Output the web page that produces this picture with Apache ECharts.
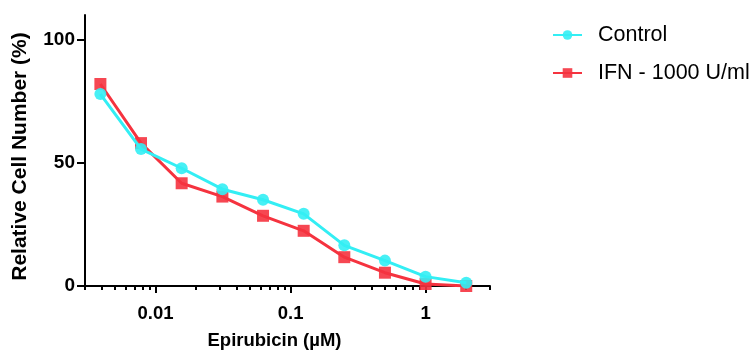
<!DOCTYPE html>
<html>
<head>
<meta charset="utf-8">
<script src="https://cdn.jsdelivr.net/npm/echarts@6/dist/echarts.min.js"></script>
<style>
  html, body { margin: 0; padding: 0; background: #fff; }
  #chart { width: 755px; height: 352px; }
</style>
</head>
<body>
<div id="chart"></div>
<script>
// 浓度 (µM)，倍比稀释
var doses = [0.0039, 0.0078, 0.0156, 0.03125, 0.0625, 0.125, 0.25, 0.5, 1, 2];
var control = [77.9, 55.6, 47.8, 39.3, 35.0, 29.3, 16.5, 10.3, 3.8, 1.3];
var ifn = [82.0, 58.0, 41.7, 36.3, 28.5, 22.4, 11.7, 5.4, 0.8, 0.0];
// 刻度
var xMajorTicks = [0.01, 0.1, 1];
var xMinorTicks = [0.003, 0.004, 0.005, 0.006, 0.007, 0.008, 0.009,
    0.02, 0.03, 0.04, 0.05, 0.06, 0.07, 0.08, 0.09,
    0.2, 0.3, 0.4, 0.5, 0.6, 0.7, 0.8, 0.9, 2, 3];
var yTicks = [0, 50, 100];

var font = "'Liberation Sans', Arial, sans-serif";

function pairs(ys) {
    return doses.map(function (d, i) { return [d, ys[i]]; });
}

var option = {
    animation: false,
    textStyle: { fontFamily: font },
    grid: { left: 85, right: 265, top: 15, bottom: 66, outerBoundsMode: 'none', containLabel: false },
    legend: {
        orient: 'vertical',
        left: 547,
        top: 19,
        itemWidth: 29,
        itemHeight: 12,
        itemGap: 16,
        textStyle: { fontSize: 21.5, color: '#000', fontFamily: font, padding: [0, 0, 0, 11] },
        data: ['Control', 'IFN - 1000 U/ml']
    },
    xAxis: [
        {
            type: 'log',
            min: 0.003,
            max: 3,
            name: 'Epirubicin (µM)',
            nameLocation: 'middle',
            nameGap: 45,
            // 标题略偏左
            nameTextStyle: { fontSize: 18.5, fontWeight: 'bold', color: '#000', padding: [0, 26, 0, 0] },
            axisLine: { lineStyle: { color: '#000', width: 2 } },
            axisTick: { customValues: xMajorTicks, length: 7, lineStyle: { color: '#000', width: 2 } },
            axisLabel: {
                customValues: xMajorTicks,
                margin: 18,
                fontSize: 18.5, fontWeight: 'bold', color: '#000',
                formatter: function (v) { return String(v); }
            },
            splitLine: { show: false }
        },
        {
            // 次刻度
            type: 'log',
            min: 0.003,
            max: 3,
            position: 'bottom',
            axisLine: { show: false },
            axisTick: { customValues: xMinorTicks, length: 4, lineStyle: { color: '#000', width: 2 } },
            axisLabel: { show: false },
            splitLine: { show: false }
        }
    ],
    yAxis: {
        type: 'value',
        min: 0,
        max: 110,
        name: 'Relative Cell Number (%)',
        nameLocation: 'middle',
        nameGap: 54,
        // 标题略偏下
        nameTextStyle: { fontSize: 21, fontWeight: 'bold', color: '#000', padding: [0, 12, 0, 0] },
        axisLine: { show: true, lineStyle: { color: '#000', width: 2 } },
        axisTick: { show: true, customValues: yTicks, length: 8, lineStyle: { color: '#000', width: 2 } },
        axisLabel: { customValues: yTicks, margin: 10, fontSize: 19, fontWeight: 'bold', color: '#000' },
        splitLine: { show: false }
    },
    series: [
        {
            name: 'Control',
            type: 'line',
            z: 3,
            data: pairs(control),
            symbol: 'circle',
            symbolSize: 12,
            color: '#33EEF4',
            lineStyle: { width: 3, color: '#33EEF4' },
            itemStyle: { color: '#33EEF4', opacity: 0.9 }
        },
        {
            name: 'IFN - 1000 U/ml',
            type: 'line',
            z: 2,
            data: pairs(ifn),
            symbol: 'rect',
            symbolSize: 12,
            color: '#F5333F',
            lineStyle: { width: 3, color: '#F5333F' },
            itemStyle: { color: '#F5333F', opacity: 0.9 }
        }
    ]
};

var chart = echarts.init(document.getElementById('chart'));
chart.setOption(option);
</script>
</body>
</html>
